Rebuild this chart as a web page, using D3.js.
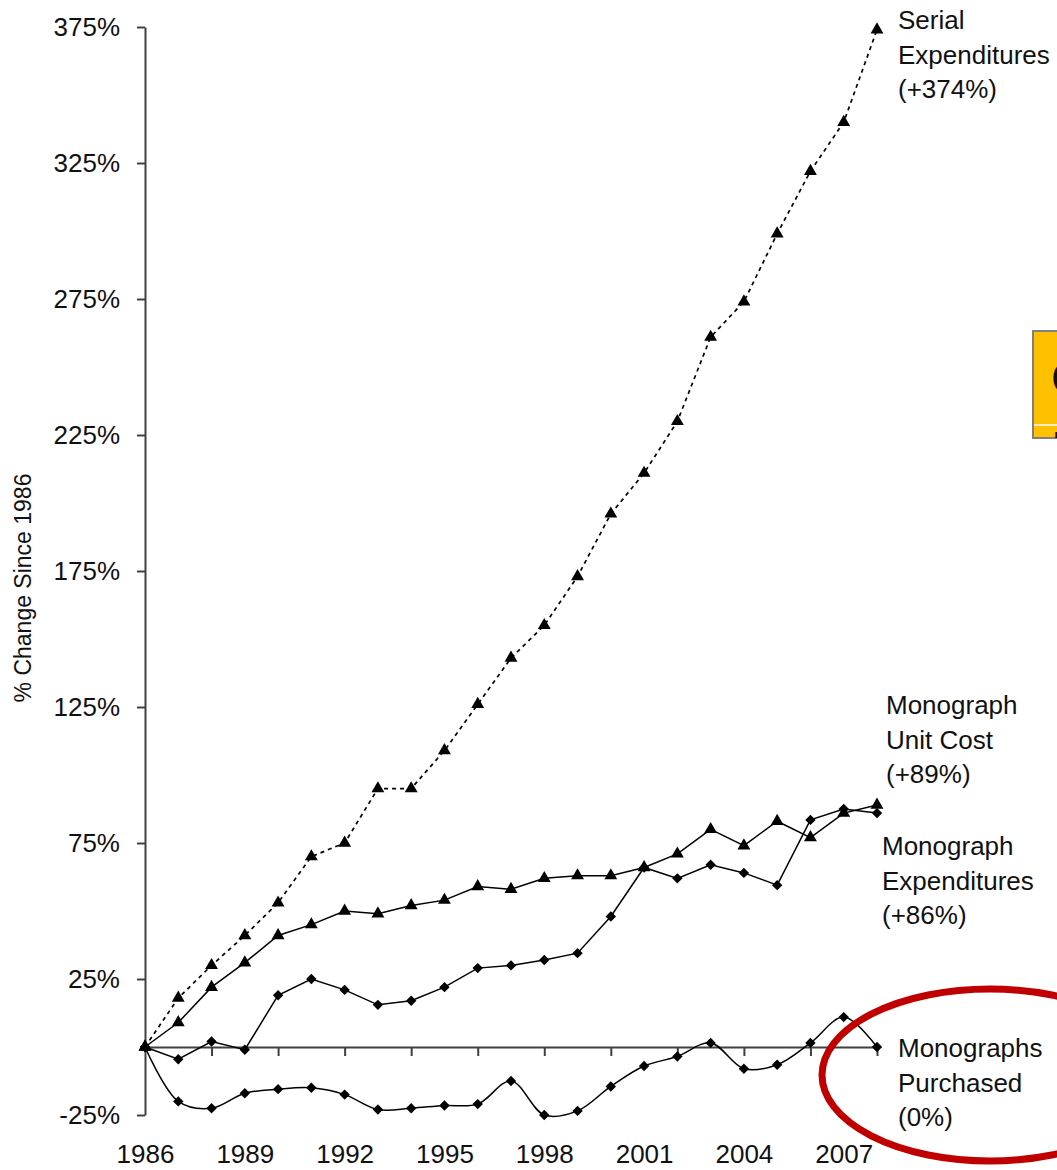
<!DOCTYPE html>
<html>
<head>
<meta charset="utf-8">
<script src="https://cdn.jsdelivr.net/npm/d3@7"></script>
<style>
  body { margin: 0; background: #fff; }
  svg text { font-family: "Liberation Sans", Arial, sans-serif; fill: #111; }
</style>
</head>
<body>
<div id="chart"></div>
<script>
// data (% change since 1986)
var years = [1986, 1987, 1988, 1989, 1990, 1991, 1992, 1993, 1994, 1995, 1996, 1997,
             1998, 1999, 2000, 2001, 2002, 2003, 2004, 2005, 2006, 2007, 2008];

var serialExpenditures = [0, 18, 30, 41, 53, 70, 75, 95, 95, 109, 126, 143,
                          155, 173, 196, 211, 230, 261, 274, 299, 322, 340, 374];

var monographUnitCost = [0, 9, 22, 31, 41, 45, 50, 49, 52, 54, 59, 58,
                         62, 63, 63, 66, 71, 80, 74, 83, 77, 86, 89];

var monographExpenditures = [0, -4.5, 2, -1, 19, 25, 21, 15.5, 17, 22, 29, 30,
                             32, 34.5, 48, 66, 62, 67, 64, 59.5, 83.5, 87.5, 86];

var monographsPurchased = [0, -20, -22.5, -17, -15.5, -15, -17.5, -23, -22.5, -21.5, -21, -12.5,
                           -25, -23.5, -14.5, -7, -3.5, 1.5, -8, -6.5, 1.5, 11, 0];

var yTicks = [-25, 25, 75, 125, 175, 225, 275, 325, 375];
var xTickYears = [1988, 1990, 1992, 1994, 1996, 1998, 2000, 2002, 2004, 2006, 2008];
var xLabelYears = [1986, 1989, 1992, 1995, 1998, 2001, 2004, 2007];

var seriesLabels = [
  ["Serial", "Expenditures", "(+374%)"],
  ["Monograph", "Unit Cost", "(+89%)"],
  ["Monograph", "Expenditures", "(+86%)"],
  ["Monographs", "Purchased", "(0%)"]
];

var w = 1057;
var h = 1170;

var svg = d3.select("#chart").append("svg")
  .attr("width", w)
  .attr("height", h);

var x = d3.scaleLinear()
  .domain([1986, 2008])
  .range([145, 877]);

var y = d3.scaleLinear()
  .domain([-25, 375])
  .range([1115, 27]);

// y axis
var yAxis = svg.append("g")
  .attr("transform", "translate(" + x(1986) + ",0)")
  .call(d3.axisLeft(y)
    .tickValues(yTicks)
    .tickFormat(function(d) { return d + "%"; })
    .tickSize(8)
    .tickSizeOuter(0)
    .tickPadding(17));
yAxis.selectAll("path, line").attr("stroke", "#404040").attr("stroke-width", 2);
yAxis.selectAll("text").style("font-size", "26px").attr("fill", "#111");

// x axis on the zero line: ticks only
var xAxis = svg.append("g")
  .attr("transform", "translate(0," + y(0) + ")")
  .call(d3.axisBottom(x)
    .tickValues(xTickYears)
    .tickFormat("")
    .tickSize(9)
    .tickSizeOuter(0));
xAxis.selectAll("path, line").attr("stroke", "#404040").attr("stroke-width", 2);

// x labels at the bottom
var xLab = svg.append("g")
  .attr("transform", "translate(0," + y(0) + ")")
  .call(d3.axisBottom(x)
    .tickValues(xLabelYears)
    .tickFormat(d3.format("d"))
    .tickSize(0)
    .tickPadding(98));
xLab.select(".domain").remove();
xLab.selectAll("text").style("font-size", "26px").attr("fill", "#111");

// y axis title
svg.append("text")
  .attr("transform", "translate(31,588) rotate(-90)")
  .attr("text-anchor", "middle")
  .style("font-size", "23px")
  .text("% Change Since 1986");

// lines
var lineStraight = d3.line()
  .x(function(d, i) { return x(years[i]); })
  .y(function(d) { return y(d); });

var lineSmooth = d3.line()
  .x(function(d, i) { return x(years[i]); })
  .y(function(d) { return y(d); })
  .curve(d3.curveCatmullRom.alpha(0.5));

svg.append("path")
  .datum(serialExpenditures)
  .attr("d", lineStraight)
  .attr("fill", "none")
  .attr("stroke", "#000")
  .attr("stroke-width", 1.7)
  .attr("stroke-dasharray", "4,4");

svg.append("path")
  .datum(monographUnitCost)
  .attr("d", lineStraight)
  .attr("fill", "none")
  .attr("stroke", "#000")
  .attr("stroke-width", 1.5);

svg.append("path")
  .datum(monographExpenditures)
  .attr("d", lineStraight)
  .attr("fill", "none")
  .attr("stroke", "#000")
  .attr("stroke-width", 1.5);

svg.append("path")
  .datum(monographsPurchased)
  .attr("d", lineSmooth)
  .attr("fill", "none")
  .attr("stroke", "#000")
  .attr("stroke-width", 1.5);

// markers
var tri = d3.symbol().type(d3.symbolTriangle).size(72);
var sq = d3.symbol().type(d3.symbolSquare).size(54);

function addMarkers(data, sym, rot) {
  svg.append("g").selectAll("path")
    .data(data)
    .enter()
    .append("path")
    .attr("d", sym)
    .attr("transform", function(d, i) {
      return "translate(" + x(years[i]) + "," + y(d) + ") rotate(" + rot + ")";
    })
    .attr("fill", "#000");
}
addMarkers(serialExpenditures, tri, 0);
addMarkers(monographUnitCost, tri, 0);
addMarkers(monographExpenditures, sq, 45);
addMarkers(monographsPurchased, sq, 45);

// series labels
var labelPos = [[898, 20], [886, 705], [882, 846], [898, 1048]];
seriesLabels.forEach(function(lines, k) {
  var t = svg.append("text")
    .attr("x", labelPos[k][0])
    .attr("y", labelPos[k][1])
    .attr("dy", "0.35em")
    .style("font-size", "26px");
  lines.forEach(function(s, j) {
    t.append("tspan")
      .attr("x", labelPos[k][0])
      .attr("dy", j === 0 ? "0.35em" : "34.5px")
      .text(s);
  });
});

// red ellipse around Monographs Purchased
svg.append("ellipse")
  .attr("cx", 990)
  .attr("cy", 1075)
  .attr("rx", 168)
  .attr("ry", 86)
  .attr("fill", "none")
  .attr("stroke", "#C00000")
  .attr("stroke-width", 7);

// cut off orange call-out box at the right edge
svg.append("clipPath").attr("id", "boxclip")
  .append("rect").attr("x", 1033).attr("y", 331).attr("width", 40).attr("height", 107);
svg.append("rect")
  .attr("x", 1033).attr("y", 331).attr("width", 40).attr("height", 107)
  .attr("fill", "#FFC000")
  .attr("stroke", "#7f7f7f")
  .attr("stroke-width", 2);
svg.append("line")
  .attr("x1", 1034).attr("x2", 1057).attr("y1", 425).attr("y2", 425)
  .attr("stroke", "#fff").attr("stroke-width", 1.5);
var boxText = svg.append("g").attr("clip-path", "url(#boxclip)");
boxText.append("text").attr("x", 1051).attr("y", 394)
  .style("font-size", "46px").text("C");
boxText.append("text").attr("x", 1051).attr("y", 464)
  .style("font-size", "46px").text("I");
</script>
</body>
</html>
